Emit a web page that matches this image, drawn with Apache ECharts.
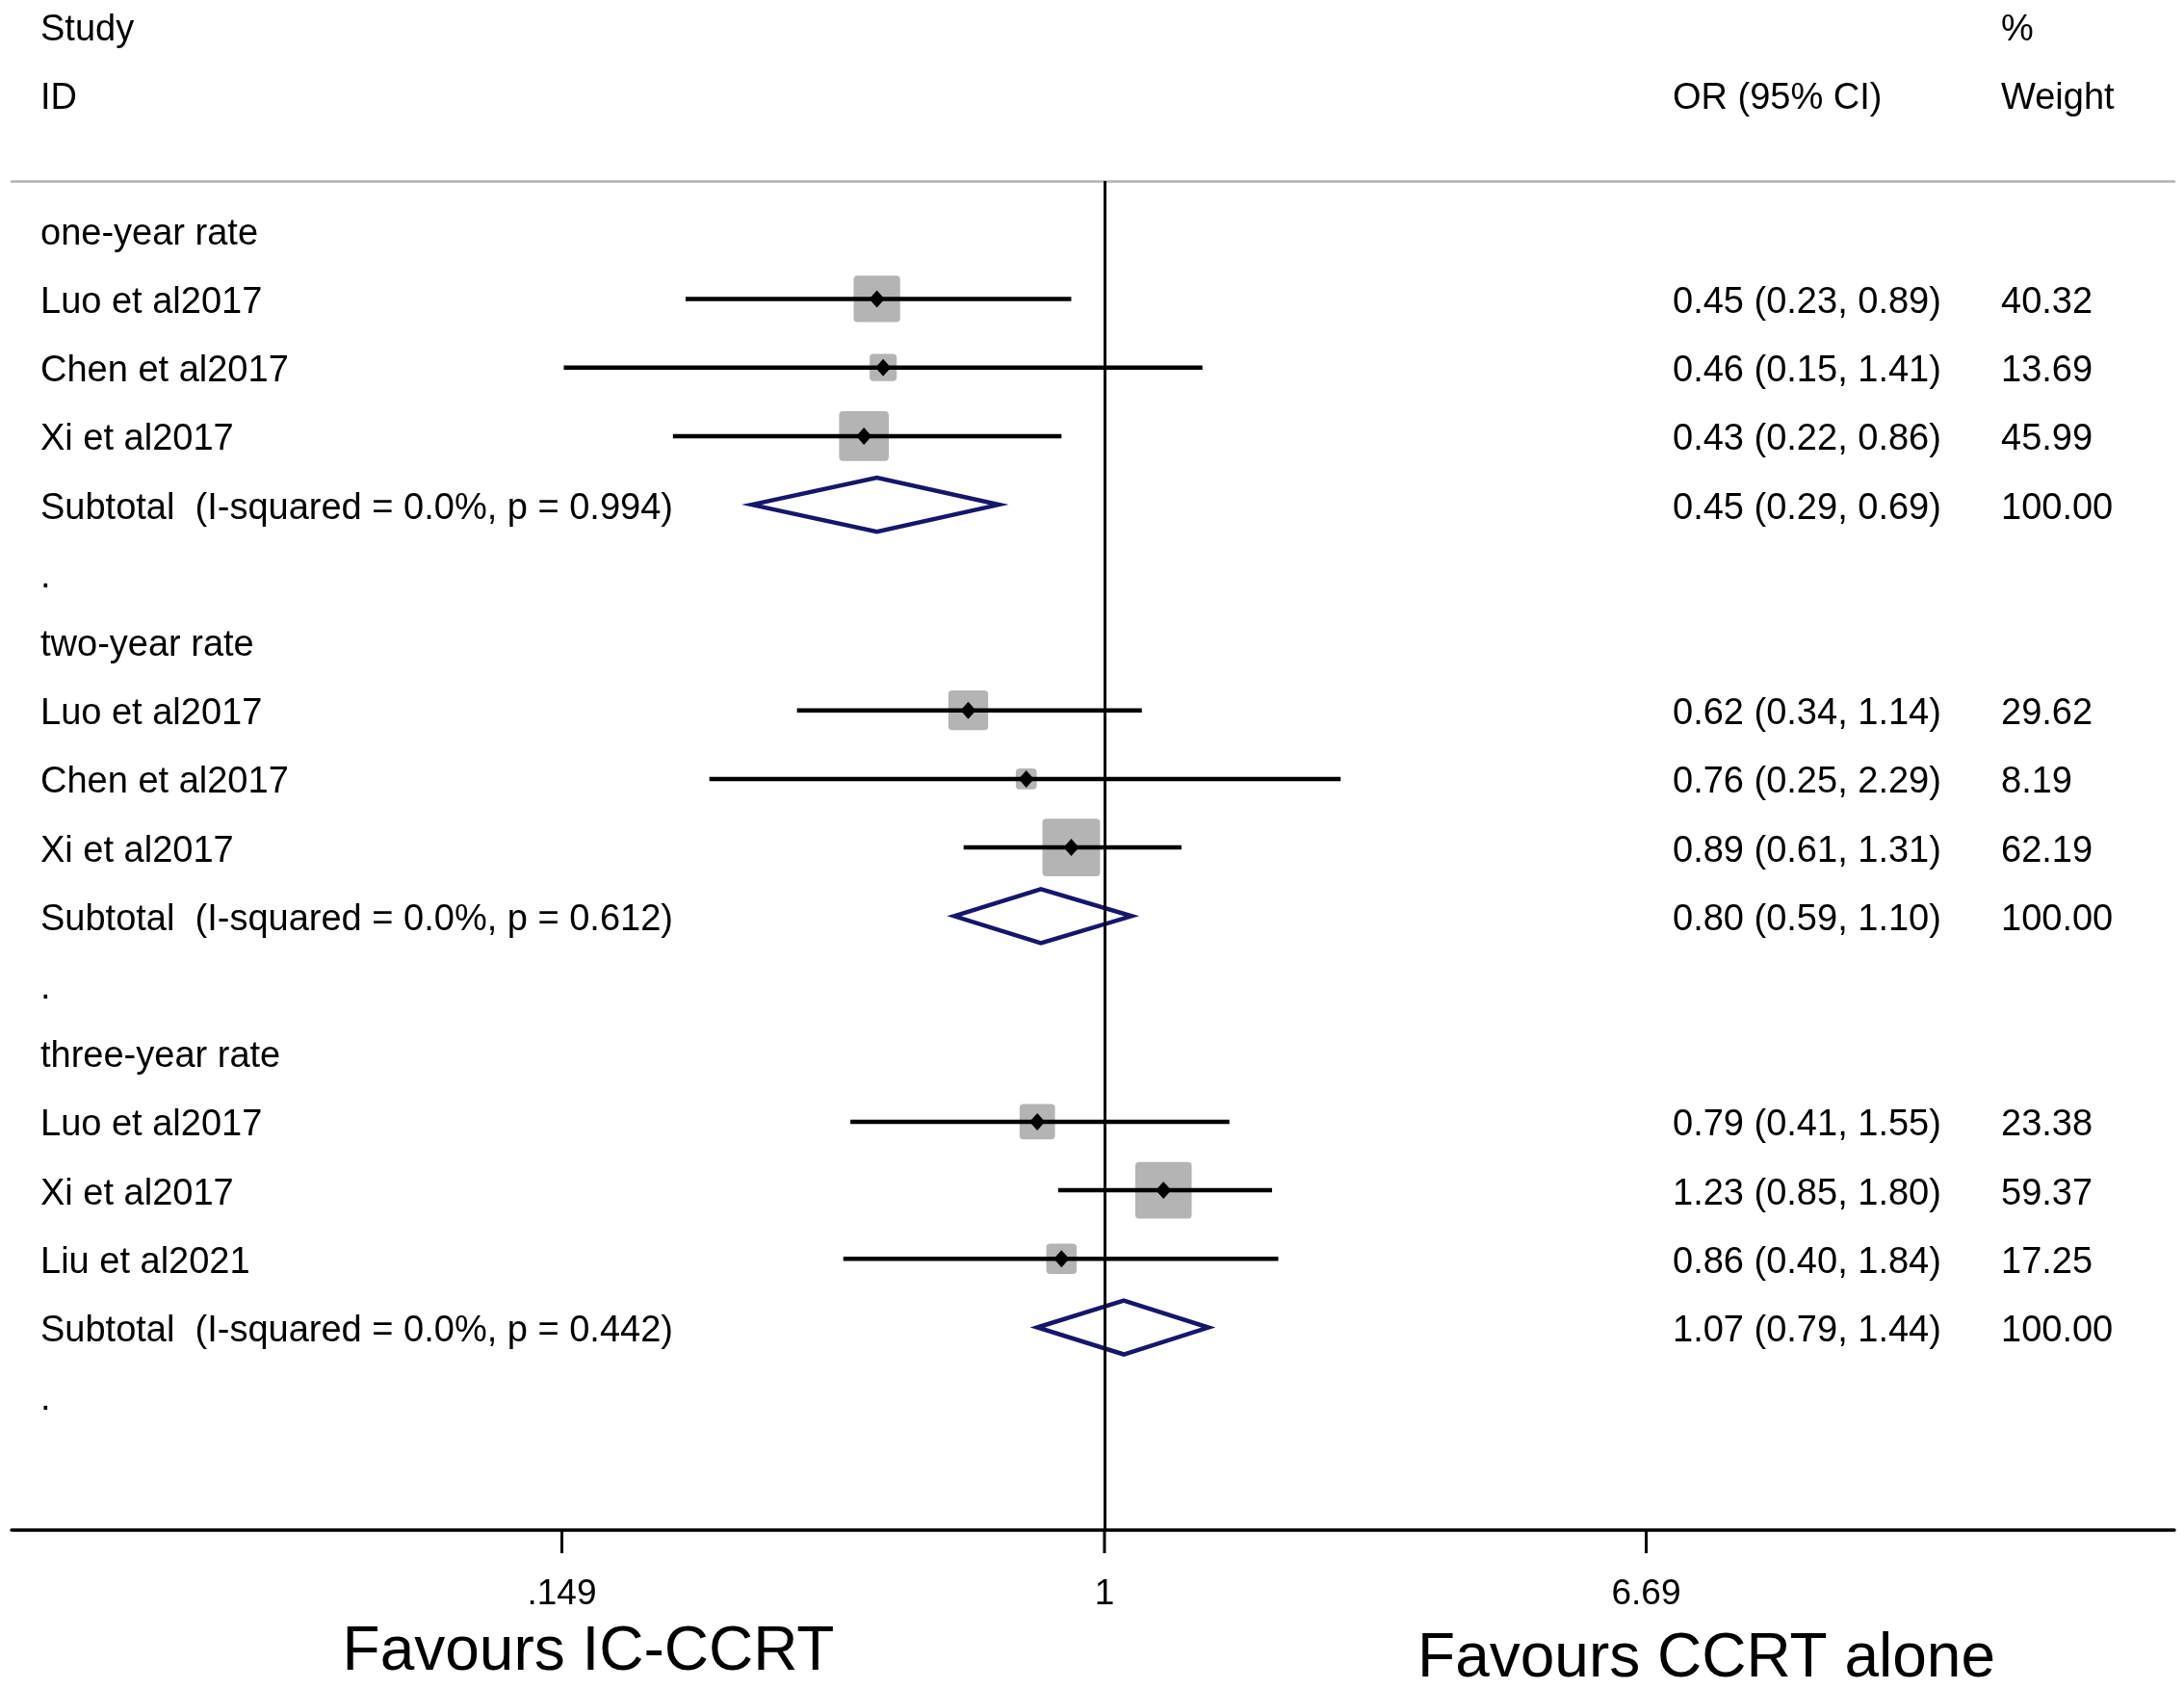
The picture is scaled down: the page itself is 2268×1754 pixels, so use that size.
<!DOCTYPE html>
<html>
<head>
<meta charset="utf-8">
<title>Forest plot</title>
<script src="https://cdn.jsdelivr.net/npm/echarts@6/dist/echarts.min.js"></script>
<style>
html, body { margin: 0; padding: 0; background: #fff; }
#main { width: 2268px; height: 1754px; }
</style>
</head>
<body>
<div id="main"></div>
<script>
// subgroups (pooled results)
var groupNames = ['one-year rate', 'two-year rate', 'three-year rate'];
var groupI2 = ['0.0%', '0.0%', '0.0%'];
var groupP = ['0.994', '0.612', '0.442'];
var groupOR = [0.45, 0.80, 1.07];
var groupLo = [0.29, 0.59, 0.79];
var groupHi = [0.69, 1.10, 1.44];

// single studies
var studyNames = ['Luo et al2017', 'Chen et al2017', 'Xi et al2017',
                  'Luo et al2017', 'Chen et al2017', 'Xi et al2017',
                  'Luo et al2017', 'Xi et al2017', 'Liu et al2021'];
var studyGroup = [0, 0, 0, 1, 1, 1, 2, 2, 2];
var studyOR = [0.45, 0.46, 0.43, 0.62, 0.76, 0.89, 0.79, 1.23, 0.86];
var studyLo = [0.23, 0.15, 0.22, 0.34, 0.25, 0.61, 0.41, 0.85, 0.40];
var studyHi = [0.89, 1.41, 0.86, 1.14, 2.29, 1.31, 1.55, 1.80, 1.84];
var studyWeight = [40.32, 13.69, 45.99, 29.62, 8.19, 62.19, 23.38, 59.37, 17.25];

// x axis ticks
var tickValues = [0.149, 1, 6.69];
var tickLabels = ['.149', '1', '6.69'];

var FONT = '38px "Liberation Sans", Arial, sans-serif';
var BIG_FONT = '64px "Liberation Sans", Arial, sans-serif';
var Y_MIN = -0.72, Y_MAX = 18.956;
var TXT_DY = 4; // text sits a little below the row centre

function fmtCI(o, l, h) {
    return o.toFixed(2) + ' (' + l.toFixed(2) + ', ' + h.toFixed(2) + ')';
}

// build the table rows
var labelRows = [], studyRows = [], subRows = [];
var row = 0;
groupNames.forEach(function (g, gi) {
    labelRows.push([1, row, g, '', '']);
    row++;
    studyNames.forEach(function (n, i) {
        if (studyGroup[i] !== gi) return;
        studyRows.push([studyOR[i], row, studyLo[i], studyHi[i], studyWeight[i]]);
        labelRows.push([1, row, n, fmtCI(studyOR[i], studyLo[i], studyHi[i]), studyWeight[i].toFixed(2)]);
        row++;
    });
    subRows.push([groupOR[gi], row, groupLo[gi], groupHi[gi]]);
    labelRows.push([1, row, 'Subtotal  (I-squared = ' + groupI2[gi] + ', p = ' + groupP[gi] + ')',
        fmtCI(groupOR[gi], groupLo[gi], groupHi[gi]), '100.00']);
    row++;
    labelRows.push([1, row, '.', '', '']);
    row++;
});

function txt(x, y, s, align, font) {
    return {
        type: 'text', x: x, y: y + TXT_DY,
        style: { text: s, font: font || FONT, fill: '#000', align: align || 'left', verticalAlign: 'middle' }
    };
}

var myChart = echarts.init(document.getElementById('main'));
var option = {
    backgroundColor: '#fff',
    animation: false,
    grid: { left: 12, right: 10, top: 188, bottom: 165, containLabel: false },
    xAxis: [{
        type: 'log',
        logBase: Math.E,
        min: 0.02161,
        max: 42.68,
        position: 'bottom',
        axisLine: { show: true, onZero: false, lineStyle: { color: '#000', width: 3.5 } },
        axisTick: { show: false },
        axisLabel: { show: false },
        splitLine: { show: false }
    }, {
        type: 'value',
        min: 0, max: 1,
        position: 'top',
        axisLine: { show: true, onZero: false, lineStyle: { color: '#b2b2b2', width: 2.5 } },
        axisTick: { show: false },
        axisLabel: { show: false },
        splitLine: { show: false }
    }],
    yAxis: {
        type: 'value',
        inverse: true,
        min: Y_MIN,
        max: Y_MAX,
        show: false
    },
    graphic: [
        txt(42, 28, 'Study'),
        txt(42, 99, 'ID'),
        txt(1737, 99, 'OR (95% CI)'),
        txt(2078, 28, '%'),
        txt(2078, 99, 'Weight'),
        txt(611, 1712, 'Favours IC-CCRT', 'center', BIG_FONT),
        txt(1772, 1719, 'Favours CCRT alone', 'center', BIG_FONT)
    ],
    series: [{
        // study squares, CI lines and point estimates
        type: 'custom',
        clip: false,
        encode: { x: 0, y: 1 },
        data: studyRows,
        renderItem: function (params, api) {
            var r = api.value(1);
            var c = api.coord([api.value(0), r]);
            var l = api.coord([api.value(2), r]);
            var h = api.coord([api.value(3), r]);
            var s = 7.6 * Math.sqrt(api.value(4));
            return {
                type: 'group',
                children: [{
                    type: 'rect',
                    shape: { x: c[0] - s / 2, y: c[1] - s / 2, width: s, height: s, r: 4 },
                    style: { fill: '#b4b4b4' }
                }, {
                    type: 'line',
                    shape: { x1: l[0], y1: l[1], x2: h[0], y2: h[1] },
                    style: { stroke: '#000', lineWidth: 4.5 }
                }, {
                    type: 'polygon',
                    shape: { points: [[c[0] - 8, c[1]], [c[0], c[1] - 9], [c[0] + 8, c[1]], [c[0], c[1] + 9]] },
                    style: { fill: '#000' }
                }]
            };
        },
        markLine: {
            silent: true,
            symbol: 'none',
            label: { show: false },
            lineStyle: { color: '#000', width: 3, type: 'solid' },
            data: [{ xAxis: 1 }]
        }
    }, {
        // pooled diamonds
        type: 'custom',
        clip: false,
        encode: { x: 0, y: 1 },
        data: subRows,
        renderItem: function (params, api) {
            var r = api.value(1);
            var c = api.coord([api.value(0), r]);
            var l = api.coord([api.value(2), r]);
            var h = api.coord([api.value(3), r]);
            return {
                type: 'polygon',
                shape: { points: [[l[0], l[1]], [c[0], c[1] - 28], [h[0], h[1]], [c[0], c[1] + 28]] },
                style: { fill: 'none', stroke: '#16166b', lineWidth: 4.5, lineJoin: 'miter' }
            };
        }
    }, {
        // text columns
        type: 'custom',
        clip: false,
        encode: { x: 0, y: 1 },
        data: labelRows,
        renderItem: function (params, api) {
            var y = api.coord([1, api.value(1)])[1];
            var d = labelRows[params.dataIndex];
            return {
                type: 'group',
                children: [txt(42, y, d[2]), txt(1737, y, d[3]), txt(2078, y, d[4])]
            };
        }
    }, {
        // x axis ticks and labels
        type: 'custom',
        clip: false,
        encode: { x: 0, y: 1 },
        data: tickValues.map(function (v) { return [v, Y_MAX]; }),
        renderItem: function (params, api) {
            var p = api.coord([api.value(0), api.value(1)]);
            return {
                type: 'group',
                children: [{
                    type: 'line',
                    shape: { x1: p[0], y1: p[1], x2: p[0], y2: p[1] + 24 },
                    style: { stroke: '#000', lineWidth: 3 }
                }, txt(p[0], p[1] + 63, tickLabels[params.dataIndex], 'center', '37px "Liberation Sans", Arial, sans-serif')]
            };
        }
    }]
};
myChart.setOption(option);
</script>
</body>
</html>
